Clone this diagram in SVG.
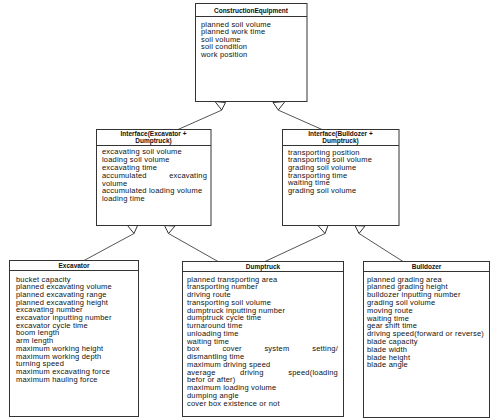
<svg xmlns="http://www.w3.org/2000/svg" width="500" height="420" viewBox="0 0 500 420">
<style>
.box{fill:#fff;stroke:#333;stroke-width:1}
.sep{stroke:#333;stroke-width:1}
.t{font-family:"Liberation Sans",Arial,sans-serif;font-size:7.5px;letter-spacing:0.2px;fill:#111}
.h{font-family:"Liberation Sans",Arial,sans-serif;font-size:6.5px;font-weight:bold;fill:#111;text-anchor:middle}
.c{stroke:#555;stroke-width:1;fill:none}
.tri{fill:#fff;stroke:#333;stroke-width:1}
</style>
<rect width="500" height="420" fill="#fff"/>
<g id="connectors">
<line class="c" x1="222" y1="110" x2="178" y2="129.5"/>
<line class="c" x1="278" y1="110" x2="322" y2="129.5"/>
<line class="c" x1="134" y1="233.5" x2="84" y2="260.5"/>
<line class="c" x1="168.5" y1="233.5" x2="218" y2="261.5"/>
<line class="c" x1="325" y1="233.5" x2="265" y2="261.5"/>
<line class="c" x1="359" y1="233.5" x2="403" y2="261.5"/>
<polygon class="tri" points="215,101.5 225.5,102.5 221.7,110"/>
<polygon class="tri" points="273,102.5 285,101.5 278.3,110"/>
<polygon class="tri" points="127.5,225.5 137.5,225.5 134,233.5"/>
<polygon class="tri" points="164.5,225.5 175,226 168.5,233.5"/>
<polygon class="tri" points="318,225.5 328,225.5 325,233.5"/>
<polygon class="tri" points="355,225.5 365,226 359,233.5"/>
</g>
<g id="ConstructionEquipment">
<rect class="box" x="195.5" y="3.5" width="111.5" height="98"/>
<line class="sep" x1="195.5" y1="16.5" x2="307" y2="16.5"/>
<text class="h" x="251" y="12.5">ConstructionEquipment</text>
<text class="t" y="26.5"><tspan x="201">planned soil volume</tspan><tspan x="201" dy="7.5">planned work time</tspan><tspan x="201" dy="7.5">soil volume</tspan><tspan x="201" dy="7.5">soil condition</tspan><tspan x="201" dy="7.5">work position</tspan></text>
</g>
<g id="InterfaceExcavatorDumptruck">
<rect class="box" x="96.5" y="129.5" width="114.5" height="96"/>
<line class="sep" x1="96.5" y1="145.5" x2="211" y2="145.5"/>
<text class="h" x="153.5" y="136"><tspan x="153.5">Interface(Excavator +</tspan><tspan x="153.5" dy="7">Dumptruck)</tspan></text>
<text class="t" y="154.3"><tspan x="102">excavating soil volume</tspan><tspan x="102" dy="7.8">loading soil volume</tspan><tspan x="102" dy="7.8">excavating time</tspan><tspan x="102" dy="7.8">accumulated</tspan><tspan x="102" dy="7.8">volume</tspan><tspan x="102" dy="7.8">accumulated loading volume</tspan><tspan x="102" dy="7.8">loading time</tspan></text>
<text class="t" x="207" y="177.7" text-anchor="end">excavating</text>
</g>
<g id="InterfaceBulldozerDumptruck">
<rect class="box" x="282.5" y="129.5" width="116.5" height="96"/>
<line class="sep" x1="282.5" y1="145.5" x2="399" y2="145.5"/>
<text class="h" y="136"><tspan x="340.5">Interface(Bulldozer +</tspan><tspan x="340.5" dy="7">Dumptruck)</tspan></text>
<text class="t" y="154.5"><tspan x="288">transporting position</tspan><tspan x="288" dy="7.7">transporting soil volume</tspan><tspan x="288" dy="7.7">grading soil volume</tspan><tspan x="288" dy="7.7">transporting time</tspan><tspan x="288" dy="7.7">waiting time</tspan><tspan x="288" dy="7.7">grading soil volume</tspan></text>
</g>
<g id="Excavator">
<rect class="box" x="9.5" y="260.5" width="129" height="156"/>
<line class="sep" x1="9.5" y1="270.5" x2="138.5" y2="270.5"/>
<text class="h" x="74" y="268">Excavator</text>
<text class="t" y="281.5"><tspan x="16">bucket capacity</tspan><tspan x="16" dy="7.7">planned excavating volume</tspan><tspan x="16" dy="7.7">planned excavating range</tspan><tspan x="16" dy="7.7">planned excavating height</tspan><tspan x="16" dy="7.7">excavating number</tspan><tspan x="16" dy="7.7">excavator inputting number</tspan><tspan x="16" dy="7.7">excavator cycle time</tspan><tspan x="16" dy="7.7">boom length</tspan><tspan x="16" dy="7.7">arm length</tspan><tspan x="16" dy="7.7">maximum working height</tspan><tspan x="16" dy="7.7">maximum working depth</tspan><tspan x="16" dy="7.7">turning speed</tspan><tspan x="16" dy="7.7">maximum excavating force</tspan><tspan x="16" dy="7.7">maximum hauling force</tspan></text>
</g>
<g id="Dumptruck">
<rect class="box" x="182.5" y="261.5" width="161" height="155"/>
<line class="sep" x1="182.5" y1="271.5" x2="343.5" y2="271.5"/>
<text class="h" x="263" y="269">Dumptruck</text>
<text class="t" y="281.5"><tspan x="187">planned transporting area</tspan><tspan x="187" dy="7.75">transporting number</tspan><tspan x="187" dy="7.75">driving route</tspan><tspan x="187" dy="7.75">transporting soil volume</tspan><tspan x="187" dy="7.75">dumptruck inputting number</tspan><tspan x="187" dy="7.75">dumptruck cycle time</tspan><tspan x="187" dy="7.75">turnaround time</tspan><tspan x="187" dy="7.75">unloading time</tspan><tspan x="187" dy="7.75">waiting time</tspan><tspan x="187" dy="7.75">box</tspan><tspan x="222.4">cover</tspan><tspan x="264.4">system</tspan><tspan x="338" text-anchor="end">setting/</tspan><tspan x="187" dy="7.75">dismantling time</tspan><tspan x="187" dy="7.75">maximum driving speed</tspan><tspan x="187" dy="7.75">average</tspan><tspan x="240.1">driving</tspan><tspan x="338" text-anchor="end">speed(loading</tspan><tspan x="187" dy="7.75">befor or after)</tspan><tspan x="187" dy="7.75">maximum loading volume</tspan><tspan x="187" dy="7.75">dumping angle</tspan><tspan x="187" dy="7.75">cover box existence or not</tspan></text>
</g>
<g id="Bulldozer">
<rect class="box" x="363.5" y="261.5" width="126" height="156"/>
<line class="sep" x1="363.5" y1="271.5" x2="489.5" y2="271.5"/>
<text class="h" x="426.5" y="268.5">Bulldozer</text>
<text class="t" y="281.5"><tspan x="367">planned grading area</tspan><tspan x="367" dy="7.8">planned grading height</tspan><tspan x="367" dy="7.8">bulldozer inputting number</tspan><tspan x="367" dy="7.8">grading soil volume</tspan><tspan x="367" dy="7.8">moving route</tspan><tspan x="367" dy="7.8">waiting time</tspan><tspan x="367" dy="7.8">gear shift time</tspan><tspan x="367" dy="7.8">driving speed(forward or reverse)</tspan><tspan x="367" dy="7.8">blade capacity</tspan><tspan x="367" dy="7.8">blade width</tspan><tspan x="367" dy="7.8">blade height</tspan><tspan x="367" dy="7.8">blade angle</tspan></text>
</g>
</svg>
